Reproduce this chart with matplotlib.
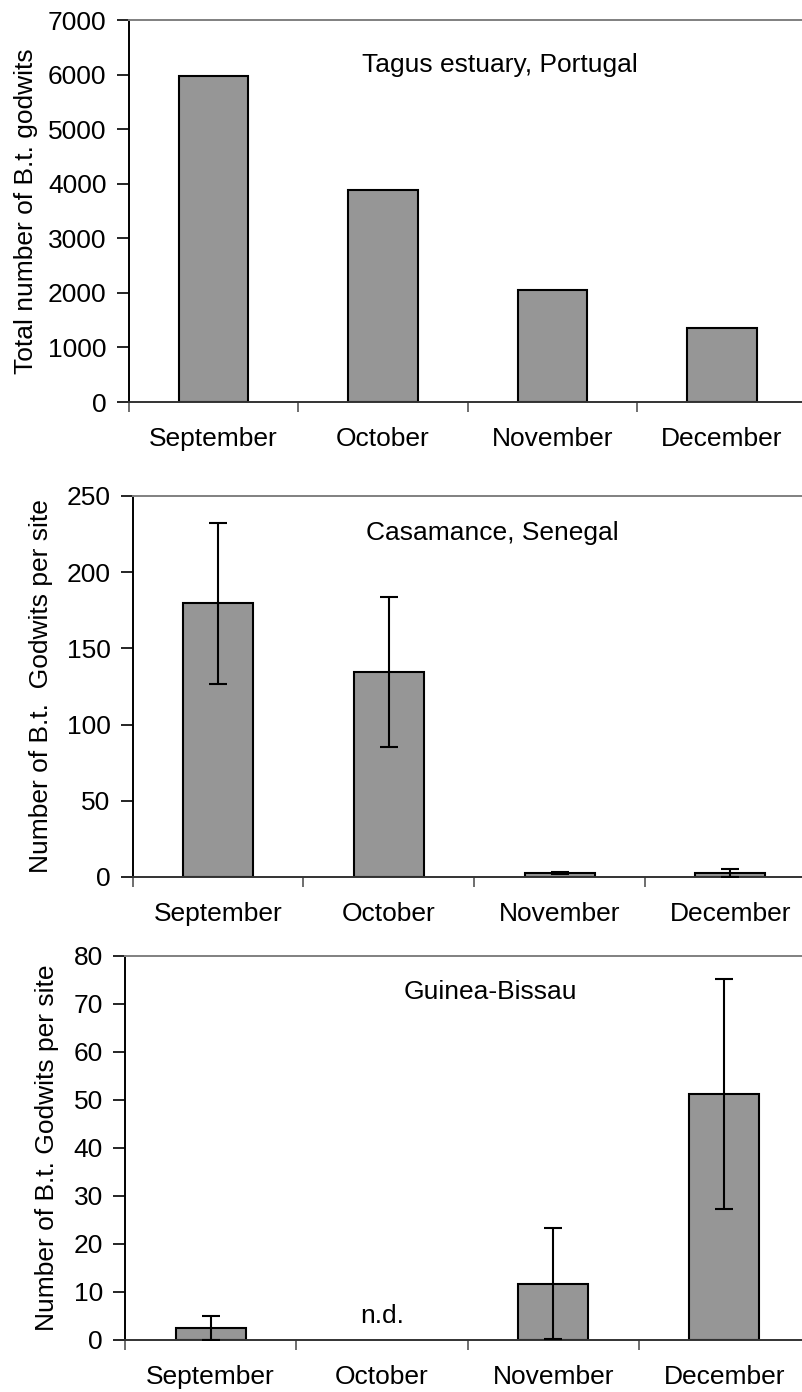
import matplotlib

matplotlib.use("Agg")
import matplotlib.pyplot as plt
from matplotlib.ticker import FixedLocator

plt.rcParams["font.family"] = ["Liberation Sans", "DejaVu Sans"]

months = ["September", "October", "November", "December"]

# Tagus estuary totals
tagus_total = [5975, 3885, 2050, 1356]

# Casamance means per site with error
casamance_mean = [179.5, 134.5, 2.5, 2.6]
casamance_err = [53, 49, 0.6, 2.6]

# Guinea-Bissau means per site with error (October not sampled)
guinea_mean = [2.5, None, 11.7, 51.2]
guinea_err = [2.5, None, 11.6, 24.0]

FS = 19
BAR = "#969696"


def style_axis(ax, ymax, ystep, ylabel, label_x):
    ax.set_xlim(-0.5, 3.5)
    ax.set_ylim(0, ymax)
    ax.set_yticks(range(0, ymax + 1, ystep))
    ax.set_xticks(range(4))
    ax.set_xticklabels(months, fontsize=FS)
    ax.xaxis.set_minor_locator(FixedLocator([-0.5, 0.5, 1.5, 2.5]))
    ax.tick_params(axis="x", which="major", length=0, pad=18)
    ax.tick_params(axis="x", which="minor", length=7, width=1.2, color="#555555", direction="out")
    ax.tick_params(axis="y", length=9, width=1.2, pad=7, labelsize=FS, direction="out")
    ax.spines["left"].set_color("black")
    ax.spines["left"].set_linewidth(1.4)
    ax.spines["bottom"].set_color("#333333")
    ax.spines["bottom"].set_linewidth(1.4)
    ax.spines["top"].set_color("#808080")
    ax.spines["top"].set_linewidth(1.4)
    ax.spines["right"].set_visible(False)
    ax.set_ylabel(ylabel, fontsize=FS)
    ax.yaxis.set_label_coords(label_x, 0.5)


fig = plt.figure(figsize=(8.03, 13.92), dpi=100)

ax1 = fig.add_axes([0.1603, 0.7112, 0.8443, 0.2744])
ax2 = fig.add_axes([0.1653, 0.3700, 0.8506, 0.2737])
ax3 = fig.add_axes([0.1557, 0.0374, 0.8530, 0.2759])

x = list(range(4))
bar_kw = dict(width=0.41, color=BAR, edgecolor="black", linewidth=1.5, zorder=2)
err_kw = dict(fmt="none", ecolor="black", elinewidth=1.5, capsize=6.5, capthick=1.5, zorder=3)

ax1.bar(x, tagus_total, **bar_kw)
style_axis(ax1, 7000, 1000, "Total number of B.t. godwits", -0.134)
ax1.text(0.548, 0.882, "Tagus estuary, Portugal", transform=ax1.transAxes,
         ha="center", va="center", fontsize=FS)

ax2.bar(x, casamance_mean, **bar_kw)
ax2.errorbar(x, casamance_mean, yerr=casamance_err, **err_kw)
style_axis(ax2, 250, 50, "Number of B.t.  Godwits per site", -0.117)
ax2.text(0.527, 0.904, "Casamance, Senegal", transform=ax2.transAxes,
         ha="center", va="center", fontsize=FS)

gx = [i for i, v in enumerate(guinea_mean) if v is not None]
gm = [guinea_mean[i] for i in gx]
ge = [guinea_err[i] for i in gx]
ax3.bar(gx, gm, **bar_kw)
ax3.errorbar(gx, gm, yerr=ge, **err_kw)
style_axis(ax3, 80, 10, "Number of B.t. Godwits per site", -0.096)
ax3.text(0.533, 0.905, "Guinea-Bissau", transform=ax3.transAxes,
         ha="center", va="center", fontsize=FS)
ax3.text(1, 5, "n.d.", ha="center", va="center", fontsize=FS)

fig.savefig("out.png", dpi=100)
